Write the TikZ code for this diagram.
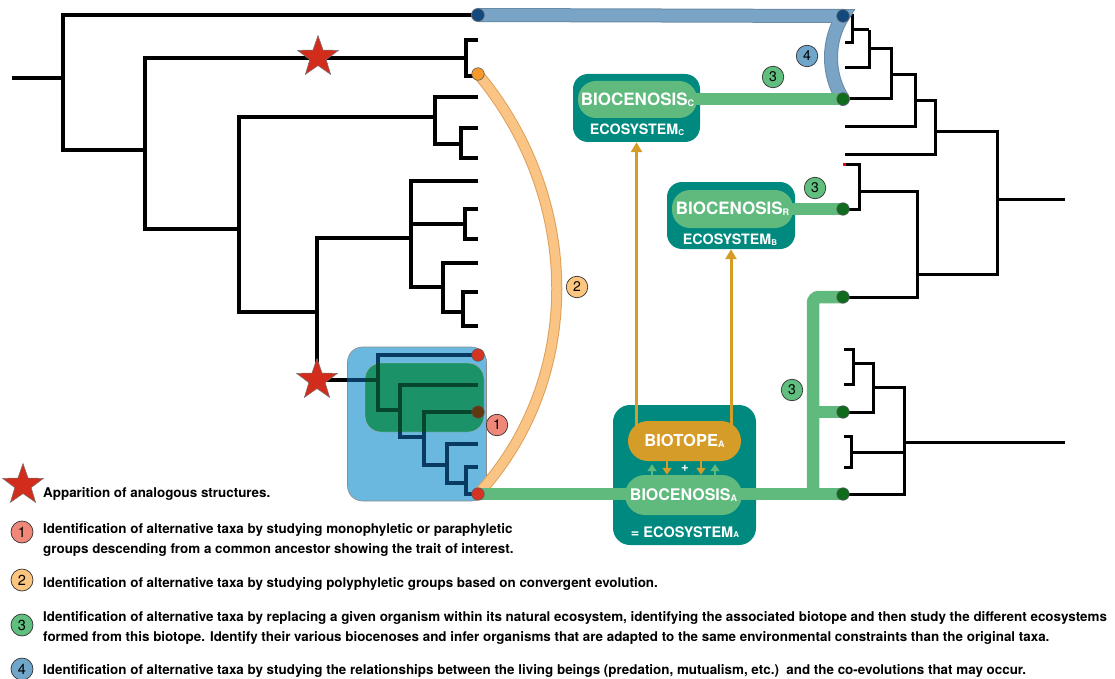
\documentclass[tikz,border=0pt]{standalone}
\usepackage{fontspec}
\setmainfont{TeX Gyre Heros}
\usetikzlibrary{shapes.geometric,arrows.meta}
\definecolor{ecoteal}{RGB}{0,137,126}
\definecolor{biogreen}{RGB}{96,186,126}
\definecolor{dotgreen}{RGB}{14,108,28}
\definecolor{goldc}{RGB}{214,156,40}
\definecolor{bandblue}{RGB}{122,164,197}
\definecolor{dotblue}{RGB}{18,74,128}
\definecolor{orband}{RGB}{250,196,132}
\definecolor{orbanddark}{RGB}{222,160,90}
\definecolor{ordot}{RGB}{246,152,42}
\definecolor{reddot}{RGB}{214,52,34}
\definecolor{browndot}{RGB}{98,56,14}
\definecolor{boxblue}{RGB}{106,184,224}
\definecolor{boxgreen}{RGB}{28,146,104}
\definecolor{navyc}{RGB}{8,58,98}
\definecolor{dkgreen}{RGB}{6,70,44}
\definecolor{starred}{RGB}{210,44,28}
\definecolor{cone}{RGB}{240,136,122}
\definecolor{ctwo}{RGB}{252,198,128}
\definecolor{cthree}{RGB}{96,190,126}
\definecolor{cfour}{RGB}{112,166,202}
\newcommand\subx[2]{\raisebox{-0.6pt}{\fontsize{#1}{#1}\selectfont #2}}
\begin{document}
\begin{tikzpicture}[x=1pt,y=-1pt,
  tree/.style={line width=3.2pt, line join=miter},
  rtree/.style={line width=3pt, line join=miter},
  ecobox/.style={fill=ecoteal, rounded corners=15pt, inner sep=0, draw=none},
  pill/.style={fill=biogreen, rounded corners=18pt, inner sep=0, text=white, font=\bfseries\fontsize{17}{17}\selectfont},
  ecolabel/.style={text=white, inner sep=0, font=\bfseries\fontsize{14.3}{14.3}\selectfont},
  dot/.style={circle, inner sep=0, minimum size=12.5pt, draw=black!65, line width=0.6pt},
  numc/.style={circle, inner sep=0, minimum size=21.5pt, draw=black!80, line width=0.7pt, font=\fontsize{14}{14}\selectfont},
  legc/.style={circle, inner sep=0, minimum size=22pt, draw=black!80, line width=0.7pt, font=\fontsize{14.5}{14.5}\selectfont},
  redstar/.style={star, star points=5, star point ratio=2.5, minimum size=43pt, inner sep=0, fill=starred, draw=black!55, line width=0.5pt},
  legtext/.style={anchor=base west, inner sep=0, font=\bfseries\fontsize{13.4}{16}\selectfont},
  gband/.style={line width=12.5pt, draw=biogreen},
  goldarr/.style={line width=3pt, draw=goldc, -{Triangle[width=11pt,length=10pt]}, goldc},
  smallarr/.style={line width=2.5pt, -{Triangle[width=9pt,length=7pt]}}
]
\useasboundingbox (0,0) rectangle (1115,679);

% ---------- left tree ----------
\draw[tree] (12,78) -- (63,78);
\draw[tree] (478,15) -- (63,15) -- (63,150) -- (145,150);
\draw[tree] (466,58) -- (145,58) -- (145,229) -- (239,229);
\draw[tree] (478,40) -- (466,40) -- (466,76) -- (478,76);
\draw[tree] (435,117) -- (239,117) -- (239,312) -- (317,312);
\draw[tree] (478,97) -- (435,97) -- (435,144) -- (461,144);
\draw[tree] (478,128) -- (461,128) -- (461,158) -- (478,158);
\draw[tree] (411,238) -- (317,238) -- (317,380) -- (348,380);
\draw[tree] (478,181) -- (411,181) -- (411,287) -- (443,287);
\draw[tree] (411,224) -- (465,224);
\draw[tree] (478,209) -- (465,209) -- (465,239) -- (478,239);
\draw[tree] (478,263) -- (443,263) -- (443,312) -- (463,312);
\draw[tree] (478,292) -- (463,292) -- (463,326) -- (478,326);

% ---------- boxes of clade ----------
\node[fill=boxblue, draw=black!45, line width=0.6pt, rounded corners=15pt, minimum width=139pt, minimum height=154pt, inner sep=0] (bluebox) at (417,424) {};
\node[fill=boxgreen, draw=black!30, line width=0.4pt, rounded corners=16pt, minimum width=119pt, minimum height=69pt, inner sep=0] (greenbox) at (424.5,397.5) {};
\def\subtree{(347,380) -- (378,380)
  (478,355) -- (378,355) -- (378,410) -- (400,410)
  (478,385) -- (400,385) -- (400,437) -- (424,437)
  (478,412) -- (424,412) -- (424,465) -- (447,465)
  (478,444) -- (447,444) -- (447,483) -- (466,483)
  (478,467) -- (466,467) -- (466,494) -- (478,494)}
\draw[tree, navyc] \subtree;
\begin{scope}
  \clip[rounded corners=16pt] (365,363) rectangle (484,432);
  \draw[tree, dkgreen] \subtree;
\end{scope}

% ---------- right tree ----------
\draw[rtree] (843,16) -- (852,16) -- (852,43) -- (845,43);
\draw[rtree] (852,30) -- (869,30);
\draw[rtree] (845,68) -- (869,68) -- (869,30);
\draw[rtree] (869,49) -- (891,49) -- (891,99) -- (843,99);
\draw[rtree] (891,75) -- (915,75) -- (915,127) -- (845,127);
\draw[rtree] (915,101) -- (935,101) -- (935,155) -- (845,155);
\draw[rtree] (935,132) -- (997,132) -- (997,274) -- (917,274);
\draw[rtree] (997,199) -- (1065,199);
\draw[rtree] (859,191) -- (917,191) -- (917,297) -- (843,297);
\draw[rtree] (846,165) -- (859,165) -- (859,209) -- (843,209);
\draw[line width=3pt, red] (843,165) -- (846,165);
\draw[rtree] (1065,442) -- (904,442);
\draw[rtree] (873,387) -- (904,387) -- (904,494) -- (843,494);
\draw[rtree] (853,363) -- (873,363) -- (873,412) -- (843,412);
\draw[rtree] (844,349) -- (853,349) -- (853,384) -- (844,384);
\draw[rtree] (851,452) -- (904,452);
\draw[rtree] (844,436) -- (851,436) -- (851,467) -- (844,467);

% ---------- named points ----------
\coordinate (lb) at (478,15);
\coordinate (od) at (478,74);
\coordinate (rd1) at (478,355);
\coordinate (bd) at (478,412);
\coordinate (rd2) at (478,494);
\coordinate (rb) at (843,16);
\coordinate (g1) at (843,99);
\coordinate (g2) at (843,209);
\coordinate (g3) at (843,297);
\coordinate (g4) at (843,412);
\coordinate (g5) at (843,494);
\coordinate (gcorner) at (813,297);
\coordinate (gjoin) at (813,412);
\coordinate (gfoot) at (813,494);

% ---------- ecosystem boxes ----------
\node[ecobox, minimum width=127pt, minimum height=68pt] (ecoC) at (636.5,108) {};
\node[ecobox, minimum width=128pt, minimum height=67pt] (ecoB) at (731,215.5) {};
\node[ecobox, rounded corners=17pt, minimum width=143pt, minimum height=140pt] (ecoA) at (684.5,475) {};
\coordinate (btc) at (684.5,441);

% ---------- bands ----------
\draw[line width=14pt, draw=bandblue!85!black, line cap=round] (lb) -- (rb) .. controls (827,40) and (827,75) .. (g1);
\draw[line width=12pt, draw=bandblue, line cap=round] (lb) -- (rb) .. controls (827,40) and (827,75) .. (g1);
\draw[line width=11pt, draw=orbanddark] (od) .. controls (583,200) and (583,380) .. (rd2);
\draw[line width=9pt, draw=orband] (od) .. controls (583,200) and (583,380) .. (rd2);
\draw[gband] (ecoC.center |- g1) -- (g1);
\draw[gband] (ecoB.center |- g2) -- (g2);
\draw[gband] (rd2) -- (g5);
\draw[gband, rounded corners=6pt] (g3) -- (gcorner) -- (gfoot);
\draw[gband] (gjoin) -- (g4);

% ---------- gold arrows ----------
\draw[goldarr] (btc -| ecoC.south) -- (ecoC.south);
\draw[goldarr] (btc -| ecoB.south) -- (ecoB.south);

% ---------- pills and labels ----------
\node[pill, minimum width=119pt, minimum height=37pt] (bioC) at (637.5,99.5) {BIOCENOSIS\subx{9}{C}};
\node[ecolabel] (ecoClab) at (637,130) {ECOSYSTEM\subx{8}{C}};
\node[pill, minimum width=121pt, minimum height=38pt] (bioB) at (732.5,209) {BIOCENOSIS\subx{9}{R}};
\node[ecolabel] (ecoBlab) at (730,240) {ECOSYSTEM\subx{8}{B}};
\node[pill, fill=goldc, rounded corners=20pt, minimum width=113pt, minimum height=40pt, font=\bfseries\fontsize{16.5}{16.5}\selectfont] (biotope) at (684.5,441) {BIOTOPE\subx{9}{A}};
\node[pill, rounded corners=20pt, minimum width=117pt, minimum height=40pt, font=\bfseries\fontsize{16}{16}\selectfont] (bioA) at (683.5,495) {BIOCENOSIS\subx{9}{A}};
\node[ecolabel, font=\bfseries\fontsize{14.5}{14.5}\selectfont] (ecoAlab) at (685,532) {= ECOSYSTEM\subx{8}{A}};
\node[text=white, inner sep=0, font=\bfseries\fontsize{13}{13}\selectfont] (plus) at (685,468) {+};
\draw[smallarr, draw=goldc, goldc] ([xshift=-17.5pt]biotope.south) -- ([xshift=-16.5pt]bioA.north);
\draw[smallarr, draw=goldc, goldc] ([xshift=16.5pt]biotope.south) -- ([xshift=17.5pt]bioA.north);
\draw[smallarr, draw=biogreen, biogreen] ([xshift=-31.5pt]bioA.north) -- ([xshift=-32.5pt,yshift=-3pt]biotope.south);
\draw[smallarr, draw=biogreen, biogreen] ([xshift=31.5pt]bioA.north) -- ([xshift=30.5pt,yshift=-3pt]biotope.south);

% ---------- dots ----------
\node[dot, fill=dotblue] (dlb) at (lb) {};
\node[dot, fill=ordot] (dod) at (od) {};
\node[dot, fill=reddot] (drd1) at (rd1) {};
\node[dot, fill=browndot] (dbd) at (bd) {};
\node[dot, fill=reddot] (drd2) at (rd2) {};
\node[dot, fill=dotblue] (drb) at (rb) {};
\node[dot, fill=dotgreen] (dg1) at (g1) {};
\node[dot, fill=dotgreen] (dg2) at (g2) {};
\node[dot, fill=dotgreen] (dg3) at (g3) {};
\node[dot, fill=dotgreen] (dg4) at (g4) {};
\node[dot, fill=dotgreen] (dg5) at (g5) {};

% ---------- stars ----------
\node[redstar] (star1) at (318,57) {};
\node[redstar] (star2) at (317,380) {};

% ---------- numbers ----------
\node[numc, fill=cone] (n1) at (497,425) {1};
\node[numc, fill=ctwo] (n2) at (577,287) {2};
\node[numc, fill=cthree] (n3a) at (773,77) {3};
\node[numc, fill=cthree] (n3b) at (815,188) {3};
\node[numc, fill=cthree] (n3c) at (792,390) {3};
\node[numc, fill=cfour] (n4) at (807,56) {4};

% ---------- legend ----------
\node[redstar] (lstar) at (23,485) {};
\node[legtext] (lt0) at (43,497) {Apparition of analogous structures.};
\node[legc, fill=cone] (l1) at (22,532) {1};
\node[legtext] (lt1a) at (43,533) {Identification of alternative taxa by studying monophyletic or paraphyletic};
\node[legtext] (lt1b) at (43,553) {groups descending from a common ancestor showing the trait of interest.};
\node[legc, fill=ctwo] (l2) at (22,580) {2};
\node[legtext] (lt2) at (43,587) {Identification of alternative taxa by studying polyphyletic groups based on convergent evolution.};
\node[legc, fill=cthree] (l3) at (22,625) {3};
\node[legtext] (lt3a) at (43,621) {Identification of alternative taxa by replacing a given organism within its natural ecosystem, identifying the associated biotope and then study the different ecosystems};
\node[legtext] (lt3b) at (43,641) {formed from this biotope. Identify their various biocenoses and infer organisms that are adapted to the same environmental constraints than the original taxa.};
\node[legc, fill=cfour] (l4) at (22,669) {4};
\node[legtext] (lt4) at (43,674) {Identification of alternative taxa by studying the relationships between the living beings (predation, mutualism, etc.)\ \ and the co-evolutions that may occur.};
\end{tikzpicture}
\end{document}
